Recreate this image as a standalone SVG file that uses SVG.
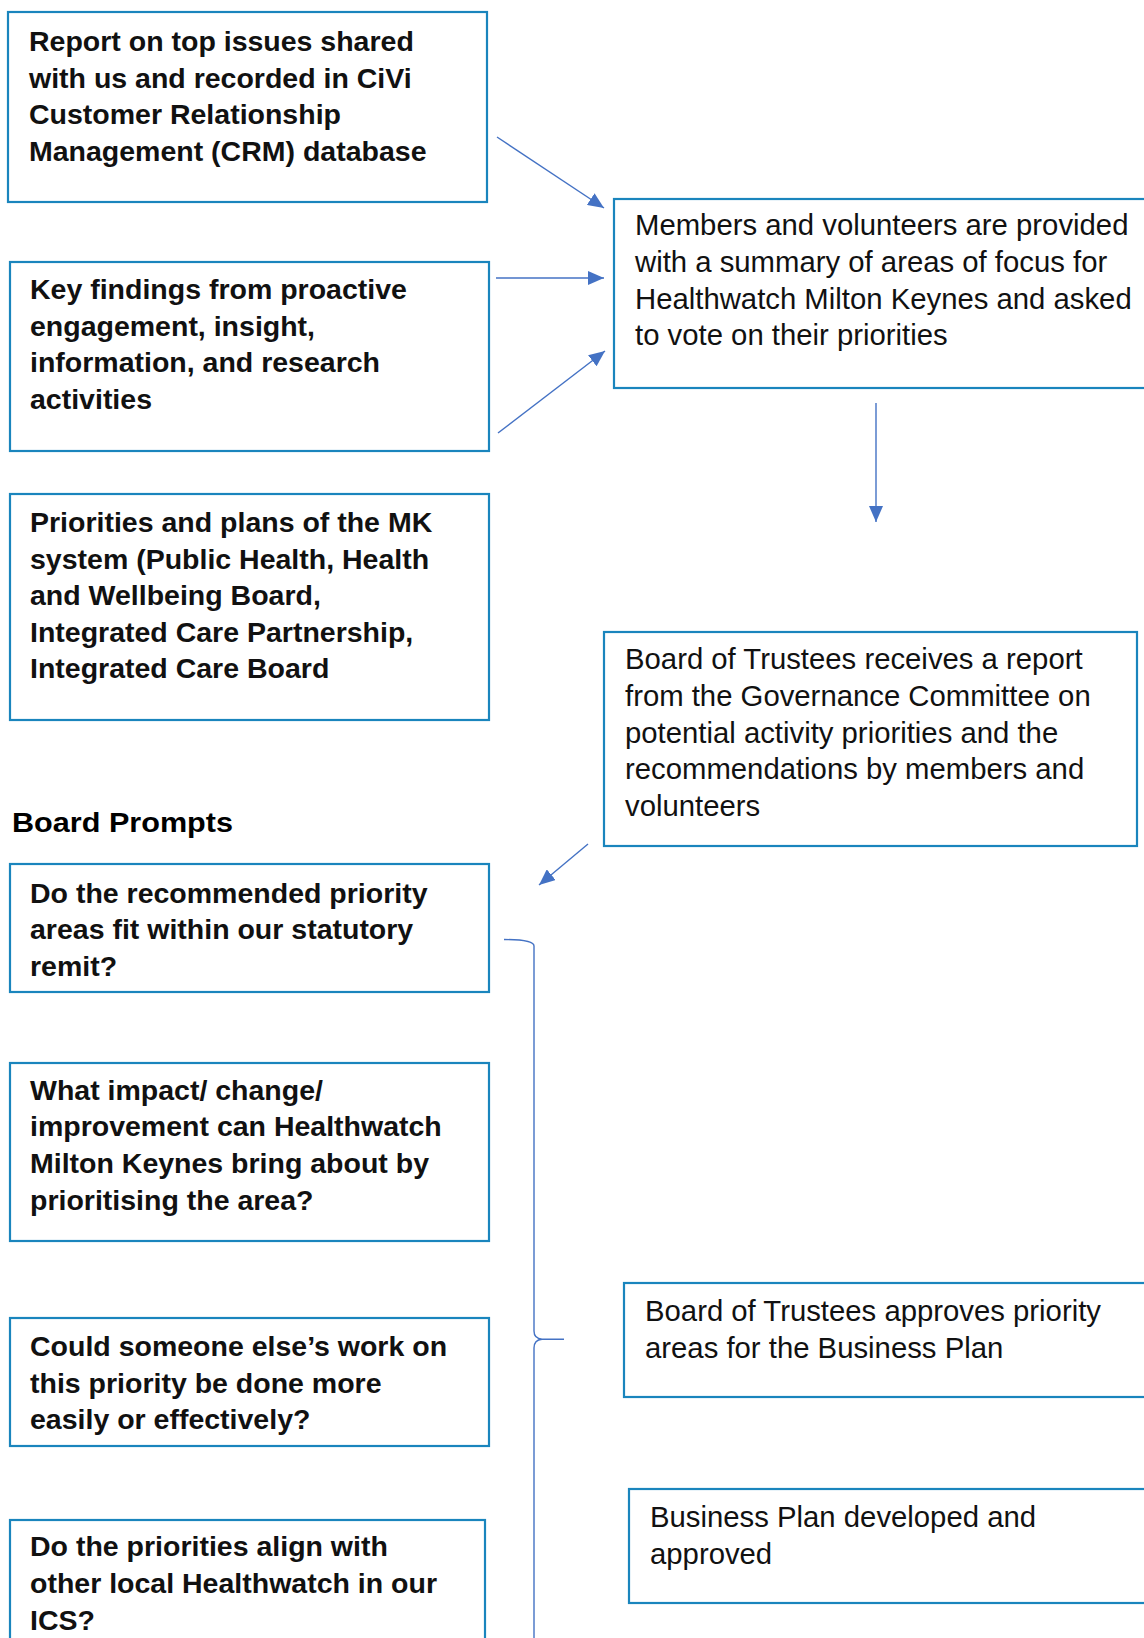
<svg xmlns="http://www.w3.org/2000/svg" width="1144" height="1638" viewBox="0 0 1144 1638">
<defs>
<style>
.box{fill:#ffffff;stroke:#1A85BD;stroke-width:2.2}
.b{font-family:"Liberation Sans",Arial,sans-serif;font-weight:bold;font-size:28.5px;fill:#111}
.r{font-family:"Liberation Sans",Arial,sans-serif;font-size:29.3px;fill:#111}
.h{font-family:"Liberation Sans",Arial,sans-serif;font-weight:bold;font-size:28.5px;fill:#000}
.conn{fill:none;stroke:#4472C4;stroke-width:1.4}
</style>
<marker id="ah" markerUnits="userSpaceOnUse" markerWidth="18" markerHeight="14" refX="16" refY="7" orient="auto">
<path d="M0,0 L16,7 L0,14 z" fill="#4472C4"/>
</marker>
</defs>
<rect width="1144" height="1638" fill="#ffffff"/>

<g id="connectors">
<line class="conn" x1="497" y1="137" x2="604" y2="208" marker-end="url(#ah)"/>
<line class="conn" x1="496" y1="278" x2="604" y2="278" marker-end="url(#ah)"/>
<line class="conn" x1="498" y1="433" x2="605" y2="351" marker-end="url(#ah)"/>
<line class="conn" x1="876" y1="403" x2="876" y2="522" marker-end="url(#ah)"/>
<line class="conn" x1="588" y1="844" x2="539" y2="885" marker-end="url(#ah)"/>
<path class="conn" d="M504,939.5 Q534,939.5 534,946 L534,1331 Q534,1338.5 542,1339.3 L564,1339.3 M542,1339.3 Q534,1340 534,1348 L534,1650"/>
</g>

<g id="node-report">
<rect class="box" x="8" y="12" width="479" height="190"/>
<text class="b" x="29" y="51">Report on top issues shared</text>
<text class="b" x="29" y="87.5">with us and recorded in CiVi</text>
<text class="b" x="29" y="124">Customer Relationship</text>
<text class="b" x="29" y="160.5">Management (CRM) database</text>
</g>

<g id="node-findings">
<rect class="box" x="10" y="262" width="479" height="189"/>
<text class="b" x="30" y="299">Key findings from proactive</text>
<text class="b" x="30" y="335.5">engagement, insight,</text>
<text class="b" x="30" y="372">information, and research</text>
<text class="b" x="30" y="408.5">activities</text>
</g>

<g id="node-priorities">
<rect class="box" x="10" y="494" width="479" height="226"/>
<text class="b" x="30" y="532">Priorities and plans of the MK</text>
<text class="b" x="30" y="568.5">system (Public Health, Health</text>
<text class="b" x="30" y="605">and Wellbeing Board,</text>
<text class="b" x="30" y="641.5">Integrated Care Partnership,</text>
<text class="b" x="30" y="678">Integrated Care Board</text>
</g>

<g id="node-members">
<rect class="box" x="614" y="199" width="545" height="189"/>
<text class="r" x="635" y="235">Members and volunteers are provided</text>
<text class="r" x="635" y="271.5">with a summary of areas of focus for</text>
<text class="r" x="635" y="308.5">Healthwatch Milton Keynes and asked</text>
<text class="r" x="635" y="345">to vote on their priorities</text>
</g>

<g id="node-receives">
<rect class="box" x="604" y="632" width="533" height="214"/>
<text class="r" x="625" y="669">Board of Trustees receives a report</text>
<text class="r" x="625" y="706">from the Governance Committee on</text>
<text class="r" x="625" y="742.5">potential activity priorities and the</text>
<text class="r" x="625" y="779">recommendations by members and</text>
<text class="r" x="625" y="816">volunteers</text>
</g>

<g id="heading">
<text class="h" x="12" y="832" textLength="221" lengthAdjust="spacingAndGlyphs">Board Prompts</text>
</g>

<g id="node-remit">
<rect class="box" x="10" y="864" width="479" height="128"/>
<text class="b" x="30" y="902.5">Do the recommended priority</text>
<text class="b" x="30" y="939">areas fit within our statutory</text>
<text class="b" x="30" y="975.5">remit?</text>
</g>

<g id="node-impact">
<rect class="box" x="10" y="1063" width="479" height="178"/>
<text class="b" x="30" y="1099.5">What impact/ change/</text>
<text class="b" x="30" y="1136">improvement can Healthwatch</text>
<text class="b" x="30" y="1173">Milton Keynes bring about by</text>
<text class="b" x="30" y="1209.5">prioritising the area?</text>
</g>

<g id="node-someone">
<rect class="box" x="10" y="1318" width="479" height="128"/>
<text class="b" x="30" y="1356">Could someone else’s work on</text>
<text class="b" x="30" y="1392.5">this priority be done more</text>
<text class="b" x="30" y="1429">easily or effectively?</text>
</g>

<g id="node-align">
<rect class="box" x="10" y="1520" width="475" height="140"/>
<text class="b" x="30" y="1556">Do the priorities align with</text>
<text class="b" x="30" y="1593">other local Healthwatch in our</text>
<text class="b" x="30" y="1629.5">ICS?</text>
</g>

<g id="node-approves">
<rect class="box" x="624" y="1283" width="535" height="114"/>
<text class="r" x="645" y="1321">Board of Trustees approves priority</text>
<text class="r" x="645" y="1358">areas for the Business Plan</text>
</g>

<g id="node-business">
<rect class="box" x="629" y="1489" width="530" height="114"/>
<text class="r" x="650" y="1527">Business Plan developed and</text>
<text class="r" x="650" y="1563.5">approved</text>
</g>
</svg>
